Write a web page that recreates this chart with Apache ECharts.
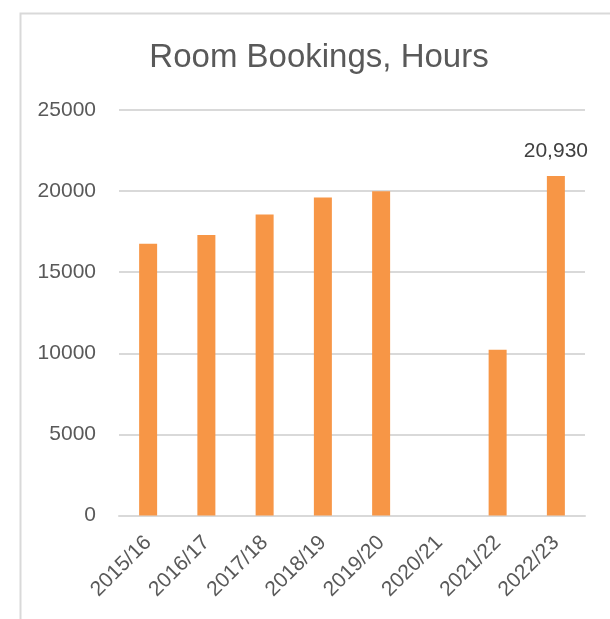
<!DOCTYPE html>
<html>
<head>
<meta charset="utf-8">
<script src="https://cdn.jsdelivr.net/npm/echarts@6/dist/echarts.min.js"></script>
<style>html,body{margin:0;padding:0;background:#fff;}#c{width:610px;height:619px;}</style>
</head>
<body>
<div id="c"></div>
<script>
const categories = ['2015/16','2016/17','2017/18','2018/19','2019/20','2020/21','2021/22','2022/23'];
const hours = [16760, 17300, 18550, 19600, 19990, 0, 10220, 20930];
const labelledIndex = 7;
const yTicks = { min: 0, max: 25000, interval: 5000 };

const chart = echarts.init(document.getElementById('c'), null, { renderer: 'canvas' });
const font = '"Liberation Sans", Arial, sans-serif';
chart.setOption({
  animation: false,
  backgroundColor: '#fff',
  graphic: [{
    type: 'rect', left: 18, top: 11, silent: true,
    shape: { width: 700, height: 700 },
    style: { fill: 'none', stroke: '#d9d9d9', lineWidth: 2 }
  }],
  title: {
    text: 'Room Bookings, Hours',
    left: 314, textAlign: 'center', top: 36,
    textStyle: { fontFamily: font, fontSize: 33, fontWeight: 'normal', color: '#595959' }
  },
  grid: { left: 119, right: 25, top: 110, bottom: 103.5, containLabel: false },
  xAxis: {
    type: 'category', data: categories,
    axisLine: { show: true, lineStyle: { color: '#d9d9d9', width: 2 } },
    axisTick: { show: false },
    axisLabel: { rotate: 45, margin: 24, fontFamily: font, fontSize: 21, color: '#595959', interval: 0 }
  },
  yAxis: {
    type: 'value', min: yTicks.min, max: yTicks.max, interval: yTicks.interval,
    axisLine: { show: false }, axisTick: { show: false },
    splitLine: { lineStyle: { color: '#d9d9d9', width: 2 } },
    axisLabel: { margin: 23, fontFamily: font, fontSize: 21, color: '#595959', formatter: v => String(v) }
  },
  series: [{
    type: 'bar', barWidth: 18,
    itemStyle: { color: '#F79646' },
    data: hours.map((v, i) => i === labelledIndex ? {
      value: v,
      label: { show: true, position: 'top', distance: 14, fontFamily: font, fontSize: 21, color: '#404040',
        formatter: p => p.value.toLocaleString('en-US') }
    } : v)
  }]
});
</script>
</body>
</html>
